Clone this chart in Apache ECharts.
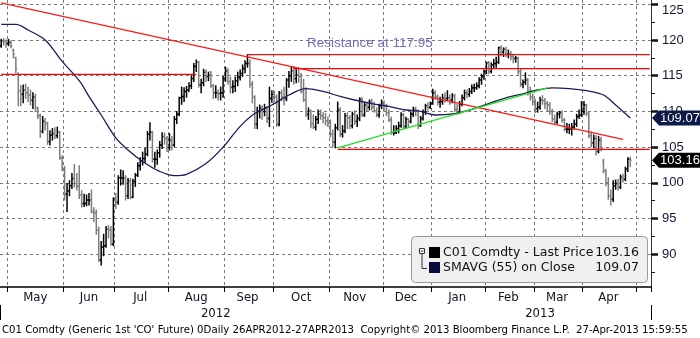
<!DOCTYPE html>
<html><head><meta charset="utf-8">
<script src="https://cdn.jsdelivr.net/npm/echarts@6/dist/echarts.min.js"></script>
<style>html,body{margin:0;padding:0;background:#fff}#c{width:700px;height:338px}</style>
</head><body><div id="c"></div>
<script>
// ---- categories (trading days) ----
const firstDay = [2012, 3, 26];
const axisDayCount = 267;
const closedDays = ['2012-12-25', '2013-01-01', '2013-03-29'];
const monthNames = ['Jan','Feb','Mar','Apr','May','Jun','Jul','Aug','Sep','Oct','Nov','Dec'];

// ---- price bars [open, high, low, close] per month ----
const bars2012Apr = [[119.2,120.1,119.0,119.9],[119.9,120.2,119.3,119.8],[119.8,120.0,119.0,119.5]];
const bars2012May = [
 [119.5,120.1,119.2,119.7],[119.6,119.9,118.9,119.2],[118.6,118.7,117.5,118.0],[117.5,117.6,115.4,116.0],
 [115.2,115.4,110.8,112.9],[112.9,113.6,110.8,112.4],[112.4,113.7,111.2,113.0],[113.0,113.8,111.8,112.6],
 [112.6,113.4,111.4,112.3],[112.3,113.0,110.9,111.6],[111.6,112.6,110.4,112.0],[112.0,112.4,110.0,110.5],
 [110.4,110.6,109.0,109.4],[109.4,109.6,106.4,107.2],[107.2,109.3,107.0,108.6],[108.6,109.0,107.4,108.3],
 [108.3,108.5,105.4,105.8],[105.8,107.3,105.3,106.7],[106.7,107.6,106.0,106.9],[106.9,107.7,106.2,106.6],
 [106.6,107.8,106.3,107.1],[107.1,107.2,103.3,103.5],[103.5,103.8,101.7,102.0]];
const bars2012Jun = [
 [102.0,102.3,97.6,98.4],[98.4,99.9,96.0,98.9],[98.9,100.3,98.2,99.6],[99.6,101.3,99.2,100.6],
 [100.6,102.6,99.4,99.9],[99.9,101.3,99.0,99.5],[99.5,102.4,97.8,98.3],[98.3,98.9,96.6,97.1],
 [97.1,98.4,96.7,97.1],[97.1,98.3,96.8,97.6],[97.6,98.5,96.9,97.6],[97.6,99.0,95.8,96.0],
 [96.0,96.5,94.6,95.8],[95.8,96.2,92.8,93.4],[93.4,93.8,89.0,89.2],[89.2,91.8,88.5,91.0],
 [91.0,92.8,89.8,91.2],[91.2,93.9,91.0,93.5],[93.5,94.0,92.3,93.4],[93.4,93.9,91.3,91.4],
 [91.4,97.9,91.2,97.8]];
const bars2012Jul = [
 [97.8,98.5,96.4,97.3],[97.3,101.0,97.0,100.7],[100.7,101.8,99.7,100.7],[100.7,101.7,99.8,100.7],
 [100.7,101.0,97.6,98.2],[98.2,100.6,97.8,100.3],[100.3,100.6,97.8,98.0],[98.0,100.5,97.9,100.2],
 [100.2,101.3,99.5,101.1],[101.1,102.8,100.9,102.4],[102.4,103.5,101.8,103.1],[103.1,104.3,102.5,103.4],
 [103.4,104.8,102.9,104.0],[104.0,107.2,103.8,106.8],[106.8,108.4,106.0,107.1],[107.1,107.2,102.9,103.3],
 [103.3,104.3,102.2,103.3],[103.3,104.6,102.6,104.2],[104.2,105.8,103.6,105.3],[105.3,107.0,104.8,106.5],
 [106.5,107.0,105.4,106.2],[106.2,106.5,104.4,104.9]];
const bars2012Aug = [
 [104.9,106.9,104.6,106.0],[106.0,106.5,104.6,105.3],[105.3,109.3,105.1,108.9],[108.9,110.0,108.3,109.6],
 [109.6,112.0,109.4,111.9],[111.9,113.4,111.0,112.1],[112.1,113.3,111.4,112.8],[112.8,113.5,112.0,113.0],
 [113.0,114.0,112.8,113.6],[113.6,115.0,113.2,114.6],[114.6,116.7,114.2,116.3],[116.3,117.2,115.6,116.9],
 [116.9,117.0,113.4,113.7],[113.7,114.5,112.6,114.0],[114.0,115.9,113.6,115.5],[115.5,115.8,114.2,114.9],
 [114.9,115.5,114.3,115.1],[115.1,115.6,113.4,113.6],[113.6,113.8,111.8,112.6],[112.6,113.6,111.9,112.6],
 [112.6,113.0,111.6,112.5],[112.5,113.4,111.6,112.6],[112.6,114.9,112.0,114.6]];
const bars2012Sep = [
 [114.6,116.2,114.2,115.7],[115.7,116.0,113.8,114.2],[114.2,114.8,112.6,113.4],[113.4,114.3,112.6,113.5],
 [113.5,114.8,112.8,114.3],[114.3,115.5,113.6,114.8],[114.8,115.8,114.4,115.3],[115.3,116.5,114.9,116.0],
 [116.0,117.1,115.4,116.7],[116.7,117.95,116.2,116.7],[116.7,117.2,113.4,113.8],[113.8,114.2,111.2,112.0],
 [112.0,112.2,107.6,108.2],[108.2,110.6,107.6,110.0],[110.0,110.9,109.1,110.5],[110.5,110.8,108.9,110.0],
 [110.0,111.0,109.4,110.5],[110.5,110.7,108.4,109.0],[109.0,113.4,107.9,111.8],[111.8,112.9,111.3,112.4]];
const bars2012Oct = [
 [112.4,112.8,111.4,112.0],[112.0,112.3,107.9,108.2],[108.2,112.8,108.0,112.6],[112.6,113.0,111.5,112.0],
 [112.0,113.4,110.9,111.8],[111.8,114.6,111.5,114.4],[114.4,115.6,113.4,115.0],[115.0,116.3,114.2,115.7],
 [115.7,116.3,113.8,114.6],[114.6,115.9,114.0,115.1],[115.1,116.1,114.1,114.9],[114.9,115.3,112.6,112.8],
 [112.8,114.5,111.4,111.6],[111.6,113.3,109.3,109.6],[109.6,110.5,108.9,110.1],[110.1,110.2,107.7,108.3],
 [108.3,109.5,107.6,107.8],[107.8,109.3,107.4,108.9],[108.9,110.2,108.3,109.6],[109.6,110.2,108.9,109.4],
 [109.4,109.8,108.4,109.1],[109.1,109.7,108.1,108.7],[108.7,109.2,107.9,108.4]];
const bars2012Nov = [
 [108.4,108.8,106.4,106.8],[106.8,107.4,105.1,105.7],[105.7,108.2,104.9,107.7],[107.7,111.3,107.4,110.2],
 [110.2,110.5,106.5,106.8],[106.8,108.0,106.4,107.3],[107.3,109.7,107.0,109.4],[109.4,109.8,107.6,109.1],
 [109.1,109.4,107.6,108.0],[108.0,109.9,107.7,109.6],[109.6,110.1,108.2,108.6],[108.6,109.5,107.9,109.0],
 [109.0,111.9,108.7,111.7],[111.7,111.9,109.3,109.5],[109.5,111.2,109.3,110.9],[110.9,111.3,110.0,110.6],
 [110.6,111.6,110.2,111.4],[111.4,111.7,110.2,110.6],[110.6,111.3,109.9,110.1],[110.1,110.5,109.3,109.5],
 [109.5,111.0,109.2,110.8],[110.8,111.6,110.4,111.2]];
const bars2012Dec = [
 [111.2,111.5,110.0,110.8],[110.8,111.0,109.4,109.8],[109.8,110.2,108.6,108.8],[108.8,109.2,106.8,107.0],
 [107.0,108.0,106.7,107.0],[107.0,108.0,106.9,107.6],[107.6,108.5,107.0,108.0],[108.0,109.8,107.8,109.5],
 [109.5,109.7,107.6,107.9],[107.9,109.2,107.7,108.9],[108.9,109.0,107.9,108.6],[108.6,109.9,108.4,109.6],
 [109.6,110.6,109.3,110.3],[110.3,110.6,109.4,110.1],[110.1,110.2,107.6,108.0],[108.0,109.3,107.9,109.0],
 [109.0,110.2,108.8,109.9],[109.9,111.0,109.6,110.8],[110.8,111.2,110.2,110.6],[110.6,111.3,110.4,111.1]];
const bars2013Jan = [
 [111.1,113.1,111.0,112.6],[112.6,112.9,111.7,112.1],[112.1,112.3,110.9,111.3],[111.3,112.0,110.6,111.4],
 [111.4,112.4,111.0,111.9],[111.9,112.6,111.3,111.8],[111.8,112.9,111.5,111.9],[111.9,112.3,111.0,111.6],
 [111.6,112.5,111.2,112.2],[112.2,112.4,110.0,110.3],[110.3,111.0,109.6,109.9],[109.9,111.4,109.7,111.0],
 [111.0,112.3,110.8,111.9],[111.9,113.0,111.6,112.6],[112.6,113.0,111.9,112.4],[112.4,113.2,112.1,112.8],
 [112.8,113.7,112.5,113.3],[113.3,113.8,112.8,113.3],[113.3,114.0,113.1,113.6],[113.6,114.7,113.3,114.4],
 [114.4,115.2,113.8,114.9],[114.9,115.8,114.5,115.6]];
const bars2013Feb = [
 [115.6,116.9,115.3,116.8],[116.8,117.0,115.3,115.6],[115.6,116.8,115.4,116.5],[116.5,117.3,116.0,116.7],
 [116.7,117.6,116.2,116.9],[116.9,119.0,116.7,118.9],[118.9,119.2,117.8,118.3],[118.3,118.9,117.7,118.7],
 [118.7,119.0,117.7,118.0],[118.0,118.6,117.5,118.0],[118.0,118.4,117.2,117.7],[117.7,118.0,116.8,117.4],
 [117.4,117.7,116.9,117.5],[117.5,117.6,115.2,115.6],[115.6,116.0,113.5,113.8],[113.8,114.4,113.3,114.1],
 [114.1,115.4,113.8,114.4],[114.4,114.6,112.3,112.7],[112.7,113.4,111.6,112.0],[112.0,112.4,110.9,111.4]];
const bars2013Mar = [
 [111.4,111.7,109.8,110.4],[110.4,111.3,109.9,110.6],[110.6,112.0,110.3,111.6],[111.6,112.2,111.0,111.5],
 [111.5,111.8,110.4,111.1],[111.1,111.4,110.0,110.9],[110.9,111.2,109.6,110.0],[110.0,110.3,108.6,108.9],
 [108.9,109.5,108.2,108.5],[108.5,109.9,108.3,109.6],[109.6,110.0,109.1,109.8],[109.8,110.1,108.5,108.8],
 [108.8,109.0,107.3,107.5],[107.5,108.3,107.0,107.5],[107.5,108.2,106.9,107.5],[107.5,108.3,106.7,107.8],
 [107.8,108.8,107.5,108.2],[108.2,109.6,107.9,109.3],[109.3,110.2,109.0,109.5],[109.5,111.4,109.3,110.0]];
const bars2013Apr = [
 [110.0,111.4,109.6,110.9],[110.9,111.0,109.4,109.7],[109.7,109.9,106.3,106.6],[106.6,107.1,105.1,105.6],
 [105.6,106.7,104.9,106.2],[106.2,106.6,103.9,104.4],[104.4,106.5,104.2,106.0],[106.0,106.4,104.5,104.9],
 [103.0,103.3,101.4,101.7],[101.7,101.9,99.6,100.0],[100.0,100.7,97.7,98.2],[98.2,99.0,96.9,97.7],
 [97.7,100.3,97.4,99.6],[99.6,100.4,99.1,99.9],[99.9,100.5,99.0,99.4],[99.4,101.1,99.2,100.8],
 [100.8,101.2,100.1,100.5],[100.5,102.2,100.3,101.9],[101.9,103.5,101.6,103.3],[103.3,103.6,102.3,103.16]];

// ---- 55-day moving average, read at [dayIndex, value] ----
const smaPoints = [[0,122.2],[6,122.2],[11,121.4],[18,120.0],[25,117.0],[32,114.3],[36,112.1],[41,109.5],
 [47,106.3],[52,104.6],[58,103.0],[65,101.6],[71,101.0],[76,101.2],[84,102.7],[91,105.0],[98,107.9],
 [104,109.7],[111,110.9],[118,112.3],[125,113.2],[132,112.8],[139,112.1],[145,111.6],[152,111.1],
 [159,110.7],[166,110.2],[172,110.0],[178,109.5],[186,109.7],[193,110.3],[200,111.1],[206,111.8],
 [213,112.4],[220,113.0],[226,113.3],[233,113.2],[240,112.9],[247,112.3],[252,110.9],[256,109.7],[258,109.07]];

// ---- drawn study lines [dayIndex, value] ----
const trendDown = [[0,125.2],[255,106.1]];
const trendUp = [[138,104.9],[224,113.3]];
const levelLeft = [[0,115.2],[80,115.2]];
const levelRight = [[120,116.0],[266,116.0]];
const levelResistance = [[101,117.95],[266,117.95]];
const levelSupport = [[138,104.7],[266,104.7]];

// ---- axis ----
const yMin = 85.42, yMax = 125.6;
const yTickValues = [90,95,100,105,110,115,120,125];
const yMinorTickValues = [87.5,92.5,97.5,102.5,107.5,112.5,117.5,122.5];
const lastPrice = 103.16, lastSma = 109.07;
const resistanceText = 'Resistance at 117.95';
const legendNames = ['C01 Comdty - Last Price', 'SMAVG (55) on Close'];
const footerText = "C01 Comdty (Generic 1st 'CO' Future) 0Daily 26APR2012-27APR2013  Copyright\u00A9 2013 Bloomberg Finance L.P.  27-Apr-2013 15:59:55";

// build trading-day categories
const days = [];
(function(){
  const d = new Date(Date.UTC(firstDay[0], firstDay[1], firstDay[2]));
  while (days.length < axisDayCount) {
    const wd = d.getUTCDay();
    const s = d.toISOString().slice(0,10);
    if (wd !== 0 && wd !== 6 && closedDays.indexOf(s) < 0) days.push(s);
    d.setUTCDate(d.getUTCDate() + 1);
  }
})();
const N = days.length;
const monthStart = days.map((s,i) => i > 0 && s.slice(0,7) !== days[i-1].slice(0,7));
const monthLabelIdx = new Set();
{
  let s = null;
  for (let i = 1; i < N; i++) {
    if (monthStart[i]) {
      if (s !== null) monthLabelIdx.add(Math.floor((s + i - 1) / 2));
      s = i;
    }
  }
}
const yearLabelIdx = new Set();
let yearStartIdx = -1;
{
  let s = 0;
  for (let i = 1; i <= N; i++) {
    if (i === N || days[i].slice(0,4) !== days[i-1].slice(0,4)) {
      yearLabelIdx.add(Math.floor((s + i - 1) / 2));
      if (i < N) yearStartIdx = i;
      s = i;
    }
  }
}

const allBars = [].concat(bars2012Apr, bars2012May, bars2012Jun, bars2012Jul, bars2012Aug, bars2012Sep,
  bars2012Oct, bars2012Nov, bars2012Dec, bars2013Jan, bars2013Feb, bars2013Mar, bars2013Apr);
const ohlcData = allBars.map((b, i) => [i, b[0], b[1], b[2], b[3]]);

const narrow = '"Liberation Sans Narrow", "DejaVu Sans Condensed", sans-serif';
const sans = '"Liberation Sans", Arial, sans-serif';

const chart = echarts.init(document.getElementById('c'));

function segment(data, color) {
  return { type:'line', data: data, xAxisIndex:0, yAxisIndex:0, showSymbol:false, symbol:'none',
    lineStyle:{color: color, width:1.3}, z:5, silent:true, animation:false };
}

chart.setOption({
  animation: false,
  backgroundColor: '#fff',
  grid: { left: -2, right: 49, top: 0, bottom: 51, containLabel: false },
  xAxis: [{
    type: 'category', data: days, boundaryGap: true,
    axisLine: { show: true, lineStyle: { color: '#000', width: 1.5 } },
    axisTick: { show: true, interval: (i) => monthStart[i], length: 5, lineStyle: { color: '#000', width: 1 } },
    axisLabel: { interval: (i) => monthLabelIdx.has(i), formatter: (v) => monthNames[+v.slice(5,7) - 1],
      margin: 4, fontSize: 13, fontFamily: narrow, color: '#111122' },
    splitLine: { show: true, interval: (i) => monthStart[i], lineStyle: { type: [3,3], color: '#777', width: 1 } }
  }, {
    type: 'category', data: days, boundaryGap: true, position: 'bottom', offset: 18,
    axisLine: { show: false },
    axisTick: { show: true, interval: (i) => i === yearStartIdx, length: 15, lineStyle: { color: '#000', width: 1 } },
    axisLabel: { interval: (i) => yearLabelIdx.has(i), formatter: (v) => v.slice(0,4),
      margin: 2, fontSize: 13, fontFamily: narrow, color: '#111122' },
    splitLine: { show: false }
  }],
  yAxis: [{
    type: 'value', position: 'right', min: yMin, max: yMax,
    axisLine: { show: true, lineStyle: { color: '#333', width: 1 } },
    axisTick: { show: true, customValues: yTickValues, length: 7, lineStyle: { color: '#111', width: 2.5 } },
    axisLabel: { customValues: yTickValues, margin: 11, fontSize: 13, fontFamily: sans, color: '#15153a',
      formatter: (v) => v === 125 ? '{t|125}' : String(v),
      rich: { t: { padding: [12,0,0,0], fontSize: 13, fontFamily: sans, color: '#15153a' } } },
    splitLine: { show: true, lineStyle: { type: [3,3], color: '#777', width: 1 } }
  }, {
    type: 'value', position: 'right', min: yMin, max: yMax,
    axisLine: { show: false },
    axisTick: { show: true, customValues: yMinorTickValues, length: 4, lineStyle: { color: '#111', width: 1 } },
    axisLabel: { show: false },
    splitLine: { show: false }
  }],
  series: [{
    type: 'custom', xAxisIndex: 0, yAxisIndex: 0, data: ohlcData, z: 3,
    encode: { x: 0, y: [1,2,3,4] },
    renderItem: function (params, api) {
      const i = api.value(0);
      const o = api.value(1), h = api.value(2), l = api.value(3), c = api.value(4);
      const pH = api.coord([i, h]), pL = api.coord([i, l]);
      const pO = api.coord([i, o]), pC = api.coord([i, c]);
      const t = api.size([1, 0])[0] * 0.55;
      const color = c < o ? '#7d7d7d' : '#000';
      const st = { stroke: color, lineWidth: 1.5 };
      return { type: 'group', children: [
        { type: 'line', shape: { x1: pH[0], y1: pH[1] - 0.5, x2: pL[0], y2: pL[1] + 0.5 }, style: st },
        { type: 'line', shape: { x1: pO[0] - t, y1: pO[1], x2: pO[0], y2: pO[1] }, style: st },
        { type: 'line', shape: { x1: pC[0], y1: pC[1], x2: pC[0] + t, y2: pC[1] }, style: st }
      ]};
    }
  }, {
    type: 'line', data: smaPoints, xAxisIndex: 0, yAxisIndex: 0, smooth: 0.35, showSymbol: false, symbol: 'none',
    lineStyle: { color: '#1c1c5e', width: 1.3 }, z: 4
  },
  segment(trendDown, '#ff1a1a'),
  segment(levelLeft, '#ff0000'),
  segment(levelRight, '#ff0000'),
  segment(levelResistance, '#e01010'),
  segment(levelSupport, '#ff0000'),
  segment(trendUp, '#22e022')
  ]
});

const yClose = chart.convertToPixel({ yAxisIndex: 0 }, lastPrice);
const ySma = chart.convertToPixel({ yAxisIndex: 0 }, lastSma);

function tag(yc, fill, text) {
  return { type: 'group', z: 100, children: [
    { type: 'polygon', shape: { points: [[652, yc], [659, yc - 7.5], [700, yc - 7.5], [700, yc + 7.5], [659, yc + 7.5]] },
      style: { fill: fill } },
    { type: 'text', x: 680, y: yc, style: { text: text, fill: '#fff', font: '13px ' + sans,
      align: 'center', verticalAlign: 'middle', textAlign: 'center', textVerticalAlign: 'middle' } }
  ]};
}
function txt(x, y, text, font, fill, align) {
  return { type: 'text', x: x, y: y, z: 101, style: { text: text, font: font, fill: fill,
    align: align || 'left', verticalAlign: 'middle', textAlign: align || 'left', textVerticalAlign: 'middle' } };
}

const legendFont = '12.5px "DejaVu Sans", sans-serif';
chart.setOption({
  graphic: [
    tag(ySma, '#0b1a48', lastSma.toFixed(2)),
    tag(yClose, '#000000', lastPrice.toFixed(2)),
    txt(307, 43, resistanceText, '13.5px ' + sans, '#6e6ec0'),
    { type: 'group', z: 100, children: [
      { type: 'rect', shape: { x: 411.5, y: 236.5, width: 236, height: 46, r: 4 },
        style: { fill: '#f0f0f0', stroke: '#999', lineWidth: 1 } },
      { type: 'rect', shape: { x: 419.5, y: 248.5, width: 5, height: 5 }, style: { fill: '#fff', stroke: '#333', lineWidth: 1 } },
      { type: 'line', shape: { x1: 420.5, y1: 251, x2: 423.5, y2: 251 }, style: { stroke: '#333', lineWidth: 1 } },
      { type: 'polyline', shape: { points: [[422, 254], [422, 268.5], [427, 268.5]] }, style: { stroke: '#333', lineWidth: 1, fill: null } },
      { type: 'rect', shape: { x: 429, y: 247, width: 11, height: 11 }, style: { fill: '#000' } },
      { type: 'rect', shape: { x: 429, y: 262, width: 11, height: 11 }, style: { fill: '#0b0b40' } },
      txt(443, 253, legendNames[0], legendFont, '#111'),
      txt(639, 253, lastPrice.toFixed(2), legendFont, '#111', 'right'),
      txt(443, 268, legendNames[1], legendFont, '#111'),
      txt(639, 268, lastSma.toFixed(2), legendFont, '#111', 'right')
    ]},
    txt(2, 330, footerText, '11.3px ' + narrow, '#000')
  ]
});
</script>
</body></html>
